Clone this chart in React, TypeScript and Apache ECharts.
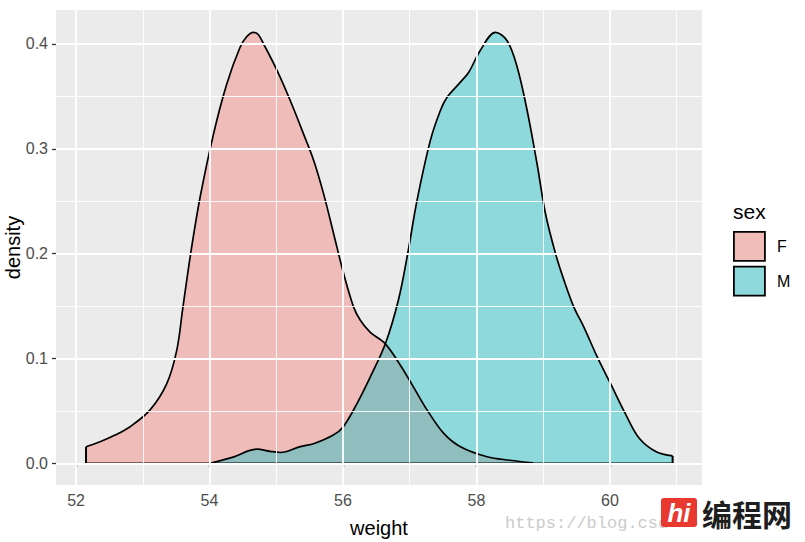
import React, { useEffect, useRef } from "react";
import * as echarts from "echarts";

const xMajor = [52, 54, 56, 58, 60];
const xMinor = [53, 55, 57, 59, 61];
const yMajor = [0, 0.1, 0.2, 0.3, 0.4];
const yMinor = [0.05, 0.15, 0.25, 0.35];

const fWeight = [52.15, 52.36, 52.585, 52.81, 53.11, 53.36, 53.51, 53.6, 53.725, 53.86, 54.06, 54.26, 54.46, 54.56, 54.66, 54.73, 54.81, 55.01, 55.21, 55.41, 55.56, 55.71, 55.86, 56.01, 56.16, 56.26, 56.41, 56.635, 56.86, 57.055, 57.26, 57.51, 57.76, 58.16, 58.5, 58.85];
const fDensity = [0.0159, 0.0206, 0.027, 0.035, 0.051, 0.076, 0.108, 0.148, 0.203, 0.254, 0.314, 0.362, 0.397, 0.407, 0.411, 0.409, 0.4, 0.375, 0.346, 0.314, 0.289, 0.257, 0.219, 0.181, 0.149, 0.1365, 0.125, 0.114, 0.0936, 0.073, 0.051, 0.0286, 0.0159, 0.0063, 0.003, 0.0005];

const mWeight = [54.0, 54.355, 54.71, 54.91, 55.06, 55.36, 55.57, 55.855, 56.005, 56.21, 56.41, 56.635, 56.83, 56.97, 57.11, 57.31, 57.46, 57.56, 57.76, 57.885, 58.06, 58.285, 58.46, 58.61, 58.76, 58.91, 59.035, 59.185, 59.31, 59.46, 59.61, 59.81, 60.01, 60.235, 60.44, 60.695, 60.94];
const mDensity = [0, 0.006, 0.0136, 0.0115, 0.0104, 0.016, 0.019, 0.027, 0.035, 0.057, 0.0825, 0.114, 0.1556, 0.2, 0.2508, 0.308, 0.3365, 0.349, 0.3635, 0.373, 0.394, 0.411, 0.403, 0.378, 0.3365, 0.285, 0.238, 0.2, 0.175, 0.149, 0.13, 0.1015, 0.076, 0.047, 0.024, 0.011, 0.0071];

const groups = ["F", "M"];

const FONT = "'Liberation Sans', Arial, Helvetica, sans-serif";

export default function App() {
  const ref = useRef<HTMLDivElement>(null);

  useEffect(() => {
    if (!ref.current) return;
    const chart = echarts.init(ref.current, undefined, { renderer: "svg" });

    const fData = fWeight.map((w, i) => [w, fDensity[i]]);
    const mData = mWeight.map((w, i) => [w, mDensity[i]]);
    const fFirst = fData[0];
    const mLast = mData[mData.length - 1];
    const outline = [fFirst, [fFirst[0], 0], [mLast[0], 0], mLast];

    const gridLineSeries = (xs: number[], ys: number[], width: number) => ({
      type: "line",
      data: [],
      silent: true,
      markLine: {
        silent: true,
        symbol: "none",
        animation: false,
        label: { show: false },
        emphasis: { disabled: true },
        lineStyle: { color: "#FFFFFF", type: "solid", width },
        data: [...xs.map((v) => ({ xAxis: v })), ...ys.map((v) => ({ yAxis: v }))],
      },
    });

    chart.setOption({
      animation: false,
      grid: {
        left: 56,
        top: 10,
        right: 103,
        bottom: 57,
        containLabel: false,
        outerBoundsMode: "none",
        show: true,
        backgroundColor: "#EBEBEB",
        borderWidth: 0,
      },
      xAxis: {
        type: "value",
        min: 51.7,
        max: 61.38,
        name: "weight",
        nameLocation: "middle",
        nameGap: 33,
        nameMoveOverlap: false,
        nameTextStyle: { color: "#000", fontSize: 20, fontFamily: FONT },
        axisLine: { show: false },
        splitLine: { show: false },
        axisTick: { show: true, length: 4, lineStyle: { color: "#333333", width: 1.3 }, customValues: xMajor },
        axisLabel: {
          customValues: xMajor,
          color: "#4D4D4D",
          fontSize: 16,
          fontFamily: FONT,
          margin: 7,
          formatter: (v: number) => String(v),
        },
      },
      yAxis: {
        type: "value",
        min: -0.0206,
        max: 0.4323,
        name: "density",
        nameLocation: "middle",
        nameGap: 33,
        nameMoveOverlap: false,
        nameRotate: 90,
        nameTextStyle: { color: "#000", fontSize: 20, fontFamily: FONT },
        axisLine: { show: false },
        splitLine: { show: false },
        axisTick: { show: true, length: 4, lineStyle: { color: "#333333", width: 1.3 }, customValues: yMajor },
        axisLabel: {
          customValues: yMajor,
          color: "#4D4D4D",
          fontSize: 16,
          fontFamily: FONT,
          margin: 8,
          formatter: (v: number) => v.toFixed(1),
        },
      },
      legend: {
        orient: "vertical",
        left: 733,
        top: 231,
        padding: 0,
        itemWidth: 31,
        itemHeight: 29,
        itemGap: 4,
        icon: "rect",
        selectedMode: false,
        textStyle: { color: "#000", fontSize: 16, fontFamily: FONT, padding: [0, 0, 0, 7] },
        data: [
          { name: groups[0], itemStyle: { color: "#F1BDB9", borderColor: "#000", borderWidth: 1.8 } },
          { name: groups[1], itemStyle: { color: "#8DD9DB", borderColor: "#000", borderWidth: 1.8 } },
        ],
      },
      graphic: [
        {
          type: "text",
          x: 733,
          y: 211,
          style: { text: "sex", fontSize: 21, fontFamily: FONT, fill: "#000", verticalAlign: "middle" },
        },
        {
          type: "text",
          x: 505,
          y: 523,
          style: {
            text: "https://blog.csd",
            fontSize: 17,
            fontFamily: "'Liberation Mono', 'DejaVu Sans Mono', monospace",
            fill: "#CBCBCB",
            verticalAlign: "middle",
          },
        },
        {
          type: "rect",
          shape: { x: 661, y: 498, width: 36, height: 29, r: 3 },
          style: { fill: "#E8382F" },
        },
        {
          type: "text",
          x: 679,
          y: 513,
          style: {
            text: "hi",
            fontSize: 26,
            fontWeight: "bold",
            fontStyle: "italic",
            fontFamily: FONT,
            fill: "#FFFFFF",
            align: "center",
            verticalAlign: "middle",
          },
        },
        {
          type: "text",
          x: 702,
          y: 513,
          style: {
            text: "编程网",
            fontSize: 30,
            fontWeight: "bold",
            fontFamily: "'Noto Sans CJK SC', sans-serif",
            fill: "#1E1E1E",
            verticalAlign: "middle",
          },
        },
      ],
      series: [
        gridLineSeries(xMinor, yMinor, 0.9),
        gridLineSeries(xMajor, yMajor, 1.8),
        {
          name: groups[0],
          type: "line",
          data: fData,
          smooth: 0.35,
          showSymbol: false,
          symbol: "none",
          silent: true,
          lineStyle: { color: "#000", width: 1.7 },
          itemStyle: { color: "#F1BDB9" },
          areaStyle: { color: "rgba(248,118,109,0.4)", opacity: 1 },
        },
        {
          name: groups[1],
          type: "line",
          data: mData,
          smooth: 0.35,
          showSymbol: false,
          symbol: "none",
          silent: true,
          lineStyle: { color: "#000", width: 1.7 },
          itemStyle: { color: "#8DD9DB" },
          areaStyle: { color: "rgba(0,191,196,0.4)", opacity: 1 },
        },
        {
          name: "outline",
          type: "line",
          data: outline,
          showSymbol: false,
          symbol: "none",
          silent: true,
          lineStyle: { color: "#000", width: 2 },
        },
      ],
    });

    return () => chart.dispose();
  }, []);

  return <div ref={ref} style={{ width: 805, height: 542, position: "absolute", left: 0, top: 0, background: "#fff" }} />;
}
